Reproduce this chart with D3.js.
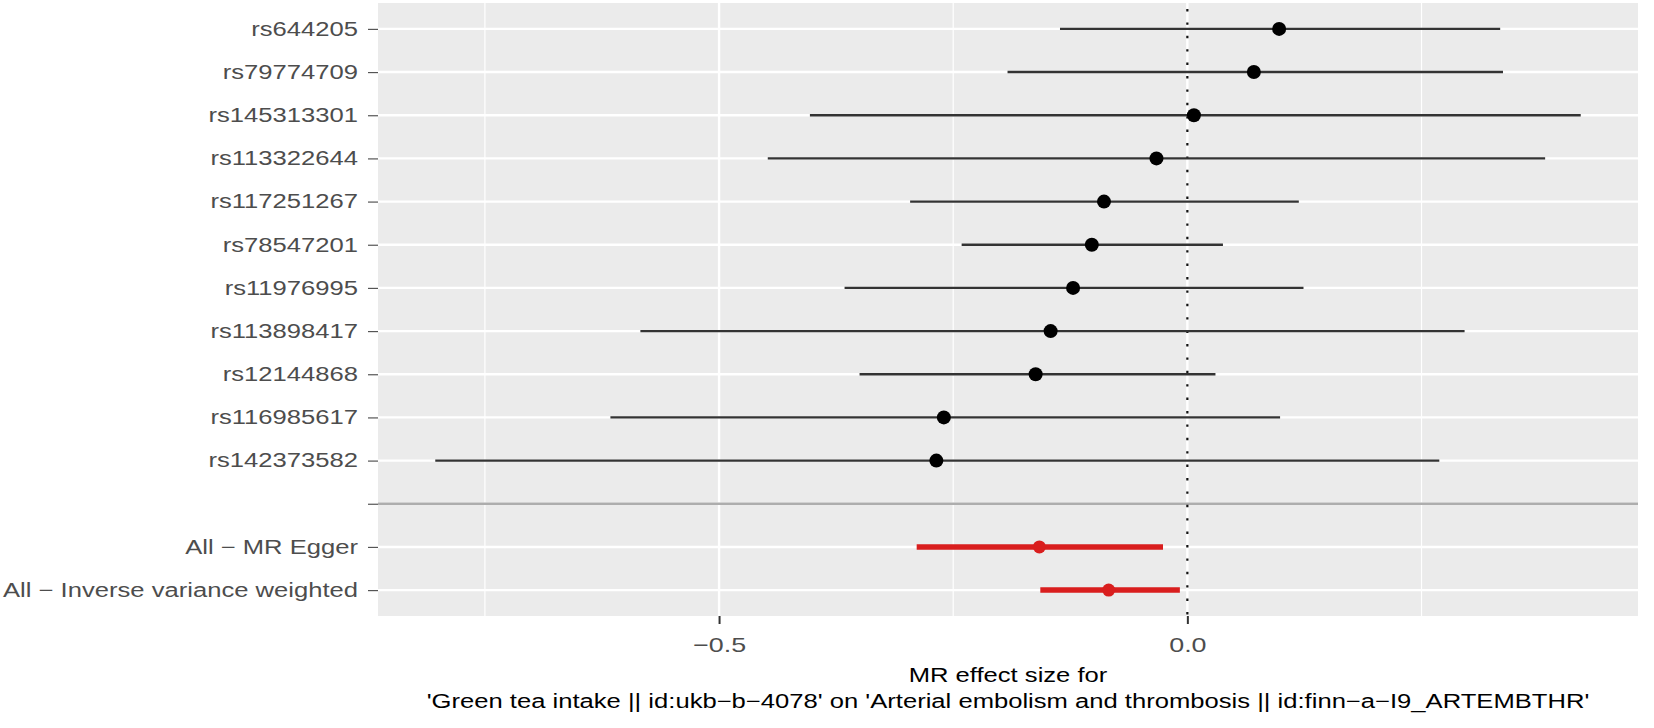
<!DOCTYPE html>
<html>
<head>
<meta charset="utf-8">
<script src="https://cdn.jsdelivr.net/npm/d3@7"></script>
<style>
  html, body { margin: 0; padding: 0; background: #fff; }
  svg { display: block; }
  text { font-family: "Liberation Sans", Arial, Helvetica, sans-serif; }
</style>
</head>
<body>
<svg id="chart" width="1654" height="728"></svg>
<script>
// ---- data ----
const snps = ["rs644205","rs79774709","rs145313301","rs113322644","rs117251267","rs78547201",
  "rs11976995","rs113898417","rs12144868","rs116985617","rs142373582","",
  "All \u2212 MR Egger","All \u2212 Inverse variance weighted"];
const estimates = [0.098, 0.071, 0.007, -0.033, -0.089, -0.102, -0.122, -0.146, -0.162, -0.260, -0.268, null, -0.158, -0.084];
const lowerCI   = [-0.136, -0.192, -0.403, -0.448, -0.296, -0.241, -0.366, -0.584, -0.350, -0.616, -0.803, null, -0.289, -0.157];
const upperCI   = [0.334, 0.337, 0.420, 0.382, 0.119, 0.038, 0.124, 0.296, 0.030, 0.099, 0.269, null, -0.026, -0.008];
const isSummary = [false,false,false,false,false,false,false,false,false,false,false,false,true,true];
const xTickValues = [-0.5, 0.0];
const xTickLabels = ["\u22120.5", "0.0"];
const xMinorValues = [-0.75, -0.25, 0.25];
const titleLines = ["MR effect size for",
  "'Green tea intake || id:ukb\u2212b\u22124078' on 'Arterial embolism and thrombosis || id:finn\u2212a\u2212I9_ARTEMBTHR'"];

const rows = snps.map((s, i) => ({snp: s, b: estimates[i], lo: lowerCI[i], up: upperCI[i], summary: isSummary[i]}));
const dataRows = rows.filter(r => r.b !== null);

// ---- layout ----
const W = 1654, H = 728;
const panel = {left: 378, right: 1638, top: 3, bottom: 616};
const SX = 1.28; // horizontal text stretch seen in the reference
const svg = d3.select("#chart");

const lo = d3.min(dataRows, d => d.lo), hi = d3.max(dataRows, d => d.up);
const pad = (hi - lo) * 0.05;
const x = d3.scaleLinear().domain([lo - pad, hi + pad]).range([panel.left, panel.right]);
const y = d3.scalePoint().domain(snps).range([panel.top, panel.bottom]).padding(0.6);

// panel background
svg.append("rect").attr("x", panel.left).attr("y", panel.top)
  .attr("width", panel.right - panel.left).attr("height", panel.bottom - panel.top)
  .attr("fill", "#EBEBEB");

const grid = svg.append("g");
grid.selectAll("line.minor").data(xMinorValues).join("line")
  .attr("x1", d => x(d)).attr("x2", d => x(d))
  .attr("y1", panel.top).attr("y2", panel.bottom)
  .attr("stroke", "#fff").attr("stroke-width", 1.2);
grid.selectAll("line.majx").data(xTickValues).join("line")
  .attr("x1", d => x(d)).attr("x2", d => x(d))
  .attr("y1", panel.top).attr("y2", panel.bottom)
  .attr("stroke", "#fff").attr("stroke-width", 2.4);
grid.selectAll("line.majy").data(snps).join("line")
  .attr("x1", panel.left).attr("x2", panel.right)
  .attr("y1", d => y(d)).attr("y2", d => y(d))
  .attr("stroke", "#fff").attr("stroke-width", 2.4);

// separator line at blank row
svg.append("line")
  .attr("x1", panel.left).attr("x2", panel.right)
  .attr("y1", y("")).attr("y2", y(""))
  .attr("stroke", "#ADADAD").attr("stroke-width", 2.6);

// dotted zero line
svg.append("line")
  .attr("x1", x(0)).attr("x2", x(0))
  .attr("y1", panel.top).attr("y2", panel.bottom)
  .attr("stroke", "#111").attr("stroke-width", 2.2)
  .attr("stroke-dasharray", "2.4 11").attr("stroke-dashoffset", -6);

const red = "#D91E1E";
// error bars
svg.append("g").selectAll("line").data(dataRows).join("line")
  .attr("x1", d => x(d.lo)).attr("x2", d => x(d.up))
  .attr("y1", d => y(d.snp)).attr("y2", d => y(d.snp))
  .attr("stroke", d => d.summary ? red : "#333")
  .attr("stroke-width", d => d.summary ? 5.5 : 2.4);
// points
svg.append("g").selectAll("circle").data(dataRows).join("circle")
  .attr("cx", d => x(d.b)).attr("cy", d => y(d.snp))
  .attr("r", d => d.summary ? 6.5 : 7)
  .attr("fill", d => d.summary ? red : "#000");

function stretchText(sel) {
  sel.each(function() {
    const t = d3.select(this);
    const tx = +t.attr("x") || 0;
    t.attr("x", 0).attr("transform", `translate(${tx},0) scale(${SX},1)`);
  });
}

// y axis
const yAxis = svg.append("g").attr("transform", `translate(${panel.left},0)`)
  .call(d3.axisLeft(y).tickSize(10).tickPadding(10));
yAxis.select(".domain").remove();
yAxis.selectAll(".tick line").attr("stroke", "#555").attr("stroke-width", 1.2);
yAxis.selectAll(".tick text").attr("fill", "#4D4D4D").attr("font-size", 20).call(stretchText);

// x axis
const xAxis = svg.append("g").attr("transform", `translate(0,${panel.bottom})`)
  .call(d3.axisBottom(x).tickValues(xTickValues).tickSize(8).tickPadding(13)
    .tickFormat((d, i) => xTickLabels[i]));
xAxis.select(".domain").remove();
xAxis.selectAll(".tick line").attr("stroke", "#333").attr("stroke-width", 2);
xAxis.selectAll(".tick text").attr("fill", "#4D4D4D").attr("font-size", 21).call(stretchText);

// x title
const cx = (panel.left + panel.right) / 2;
svg.append("g").selectAll("text").data(titleLines).join("text")
  .attr("transform", (d, i) => `translate(${cx},${682 + i * 26}) scale(${SX},1)`)
  .attr("text-anchor", "middle")
  .attr("font-size", 20).attr("fill", "#000")
  .text(d => d);
</script>
</body>
</html>
